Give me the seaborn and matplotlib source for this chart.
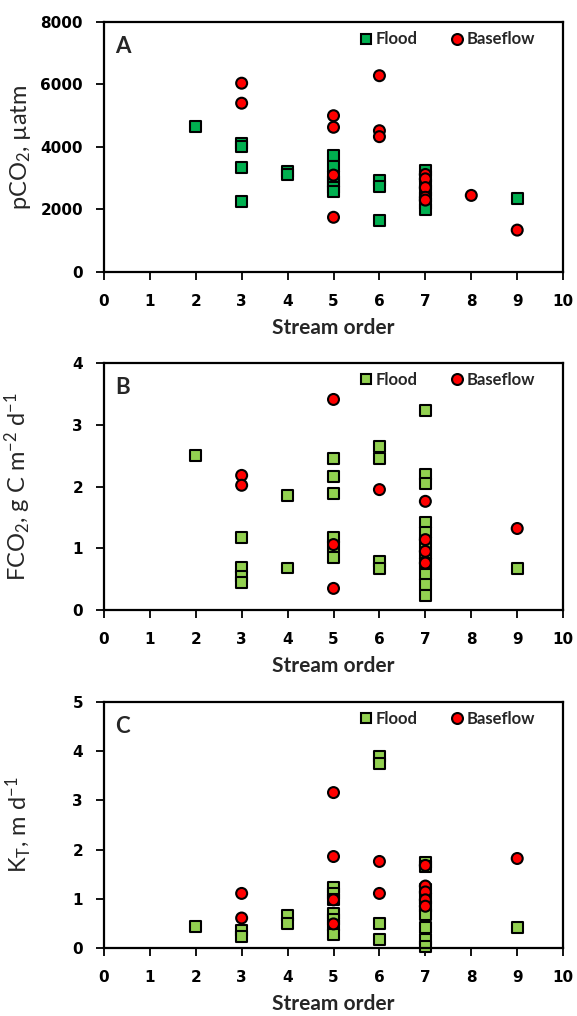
import matplotlib
matplotlib.use("Agg")
import matplotlib.pyplot as plt
import seaborn as sns
import pandas as pd

# panel A: pCO2 (uatm)
a_flood_x = [2, 3, 3, 3, 3, 4, 4, 5, 5, 5, 5, 5, 5, 6, 6, 6, 7, 7, 7, 7, 7, 7, 7, 9]
a_flood_y = [4650, 4100, 4000, 3350, 2270, 3210, 3120, 3740, 3370, 3050, 2900, 2700, 2570,
             2940, 2730, 1660, 3260, 3050, 2800, 2600, 2400, 2200, 1990, 2360]
a_base_x = [3, 3, 5, 5, 5, 5, 6, 6, 6, 7, 7, 7, 7, 7, 8, 9]
a_base_y = [6040, 5400, 5000, 4630, 3100, 1750, 6280, 4520, 4330, 3120, 2980, 2700, 2390, 2300, 2450, 1340]

# panel B: FCO2 (g C m-2 d-1)
b_flood_x = [2, 3, 3, 3, 3, 4, 4, 5, 5, 5, 5, 5, 5, 6, 6, 6, 6,
             7, 7, 7, 7, 7, 7, 7, 7, 7, 7, 7, 9]
b_flood_y = [2.50, 1.18, 0.69, 0.55, 0.45, 1.86, 0.68, 2.45, 2.16, 1.89, 1.17, 1.03, 0.85,
             2.65, 2.45, 0.78, 0.67,
             3.23, 2.19, 2.05, 1.41, 1.26, 1.10, 0.92, 0.75, 0.58, 0.41, 0.24, 0.67]
b_base_x = [3, 3, 5, 5, 5, 6, 7, 7, 7, 7, 9]
b_base_y = [2.18, 2.02, 3.41, 1.06, 0.35, 1.95, 1.76, 1.14, 0.95, 0.76, 1.32]

# panel C: KT (m d-1)
c_flood_x = [2, 3, 3, 4, 4, 5, 5, 5, 5, 5, 5, 5, 6, 6, 6, 6,
             7, 7, 7, 7, 7, 7, 7, 7, 7, 9]
c_flood_y = [0.44, 0.35, 0.24, 0.67, 0.49, 1.23, 1.10, 0.98, 0.70, 0.58, 0.45, 0.28,
             3.90, 3.75, 0.49, 0.18,
             1.73, 1.65, 1.20, 1.00, 0.85, 0.68, 0.42, 0.18, 0.04, 0.41]
c_base_x = [3, 3, 5, 5, 5, 5, 6, 6, 7, 7, 7, 7, 7, 9]
c_base_y = [1.11, 0.61, 3.16, 1.86, 0.98, 0.49, 1.76, 1.11, 1.68, 1.26, 1.14, 0.98, 0.85, 1.82]

panels = [
    ("A", a_flood_x, a_flood_y, a_base_x, a_base_y, "#00B050",
     "pCO$_2$, µatm", (0, 8000), [0, 2000, 4000, 6000, 8000]),
    ("B", b_flood_x, b_flood_y, b_base_x, b_base_y, "#92D050",
     "FCO$_2$, g C m$^{-2}$ d$^{-1}$", (0, 4), [0, 1, 2, 3, 4]),
    ("C", c_flood_x, c_flood_y, c_base_x, c_base_y, "#92D050",
     "K$_T$, m d$^{-1}$", (0, 5), [0, 1, 2, 3, 4, 5]),
]

sns.set_style("ticks")
plt.rcParams['font.family'] = ['Lato', 'DejaVu Sans']
plt.rcParams['mathtext.default'] = 'regular'

fig = plt.figure(figsize=(5.77, 10.16), dpi=100)
boxes = [[0.180, 0.7323, 0.796, 0.2461],
         [0.180, 0.3996, 0.796, 0.2431],
         [0.180, 0.0669, 0.796, 0.2421]]

for box, (tag, fx, fy, bx, by, green, ylab, ylim, yticks) in zip(boxes, panels):
    ax = fig.add_axes(box)
    df = pd.DataFrame({
        "order": fx + bx,
        "value": fy + by,
        "cond": ["Flood"] * len(fx) + ["Baseflow"] * len(bx),
    })
    sns.scatterplot(data=df, x="order", y="value", hue="cond", style="cond",
                    markers={"Flood": "s", "Baseflow": "o"},
                    palette={"Flood": green, "Baseflow": "#FF0000"},
                    s=62, edgecolor="black", linewidth=1.5, ax=ax, clip_on=False)
    ax.set_xlim(0, 10)
    ax.set_ylim(*ylim)
    ax.set_xticks(range(11))
    ax.set_yticks(yticks)
    for lbl in ax.get_xticklabels() + ax.get_yticklabels():
        lbl.set_fontfamily('DejaVu Sans')
        lbl.set_fontweight('bold')
        lbl.set_fontsize(11)
    ax.tick_params(axis='x', direction='out', length=6, width=1.3, pad=10, colors='black')
    ax.tick_params(axis='y', direction='out', length=6, width=1.3, pad=9, colors='black')
    for sp in ax.spines.values():
        sp.set_visible(True)
        sp.set_linewidth(1.6)
        sp.set_color('black')
    ax.set_xlabel("Stream order", fontsize=15, fontweight='bold', labelpad=6)
    ax.set_ylabel(ylab, fontsize=17, fontweight='normal',
                  family=['Liberation Sans Narrow', 'Lato', 'DejaVu Sans'])
    ax.yaxis.set_label_coords(-0.155, 0.5)
    ax.text(0.024, 0.90, tag, transform=ax.transAxes, fontsize=16,
            fontweight='bold', va='center', ha='left')
    leg = ax.legend(loc='center right', bbox_to_anchor=(0.94, 0.93), ncol=2,
                    frameon=False, borderpad=0, borderaxespad=0,
                    handlelength=0.7, handletextpad=0.25, columnspacing=2.0,
                    markerscale=1.0, prop={'weight': 'bold', 'size': 12})
    for h in leg.legend_handles:
        h.set_markeredgecolor('black')
        h.set_markeredgewidth(1.5)

fig.savefig("out.png", dpi=100)
